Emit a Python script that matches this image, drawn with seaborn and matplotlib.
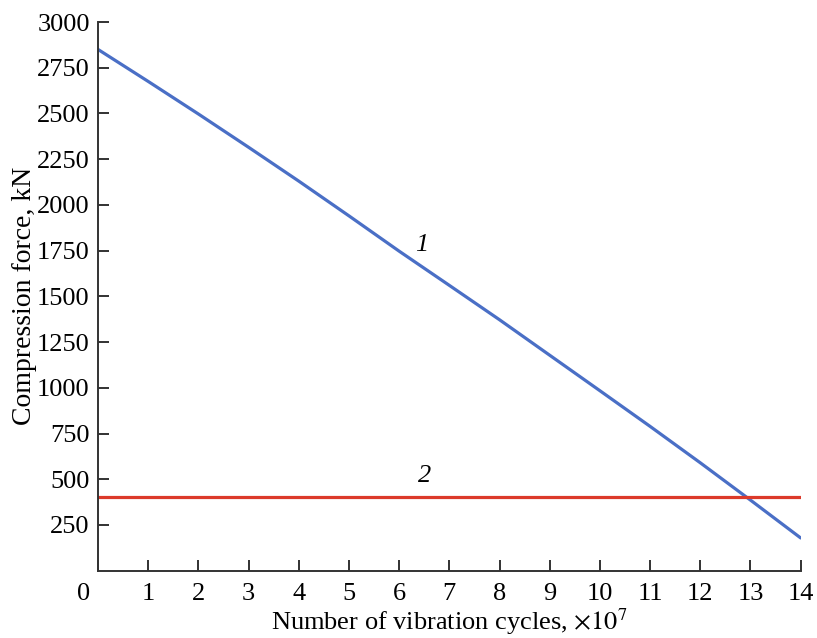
import matplotlib
matplotlib.use("Agg")
import matplotlib.pyplot as plt
import matplotlib.transforms as mtransforms
import seaborn as sns
import pandas as pd

cycles = [0, 1, 2, 3, 4, 5, 6, 7, 8, 9, 10, 11, 12, 13, 14]
force_1 = [2850, 2675, 2497, 2315, 2130, 1940, 1747, 1560, 1372, 1178, 984, 789, 590, 386, 179]
force_2 = [405] * len(cycles)
x_ticks = list(range(0, 15))
y_ticks = list(range(250, 3001, 250))

sns.set_style("ticks")
plt.rcParams['font.family'] = ['Liberation Serif', 'DejaVu Serif']
plt.rcParams['mathtext.fontset'] = 'stix'
plt.rcParams['text.color'] = 'black'
plt.rcParams['axes.labelcolor'] = 'black'

df = pd.DataFrame({"x": cycles + cycles,
                   "y": force_1 + force_2,
                   "curve": ["1"] * len(cycles) + ["2"] * len(cycles)})

fig = plt.figure(figsize=(8.17, 6.38), dpi=100)
ax = fig.add_axes([0.12, 0.1055, 0.86, 0.86])
sns.lineplot(data=df, x="x", y="y", hue="curve",
             palette={"1": "#4a6fc6", "2": "#dc3a2a"}, linewidth=2.3,
             legend=False, ax=ax)

ax.set_xlim(0, 14)
ax.set_ylim(0, 3000)
ax.set_xticks(x_ticks)
ax.set_yticks(y_ticks)
ax.set_xticklabels([str(v) for v in x_ticks])
ax.set_yticklabels([str(v) for v in y_ticks])
ax.tick_params(direction="in", length=8, width=1.3, labelsize=19, colors="#222222",
               labelcolor="black")
ax.tick_params(axis="x", pad=9)
ax.tick_params(axis="y", pad=6)
for s in ["top", "right"]:
    ax.spines[s].set_visible(False)
for s in ["left", "bottom"]:
    ax.spines[s].set_linewidth(1.4)
    ax.spines[s].set_color("#333333")

# shift the "0" x label slightly left as in the reference
lbl0 = ax.get_xticklabels()[0]
lbl0.set_transform(lbl0.get_transform() + mtransforms.ScaledTranslation(-0.14, 0, fig.dpi_scale_trans))

ax.set_xlabel(r"Number of vibration cycles, $\times10^7$", fontsize=19, labelpad=1)
ax.set_ylabel("Compression force, kN", fontsize=20, labelpad=0)

ax.text(6.45, 1720, "1", fontsize=19, style="italic", ha="center", va="bottom")
ax.text(6.5, 460, "2", fontsize=19, style="italic", ha="center", va="bottom")

fig.savefig("out.png", dpi=100)
